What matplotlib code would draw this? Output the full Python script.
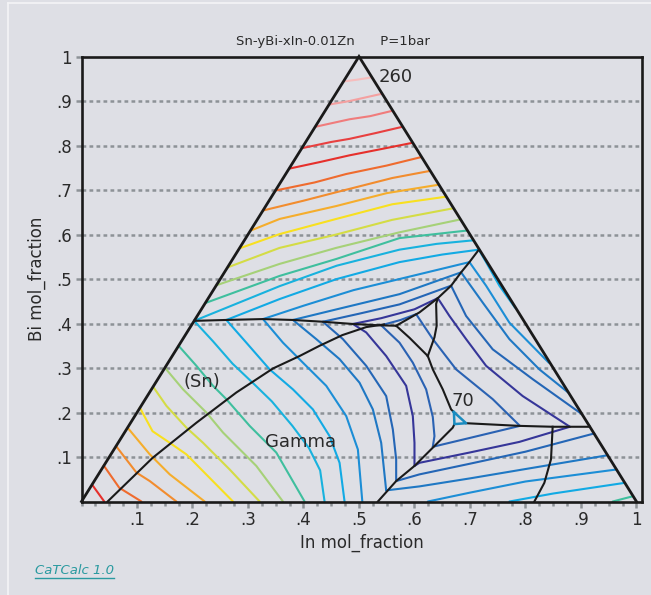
import matplotlib
matplotlib.use('Agg')
import matplotlib.pyplot as plt
from matplotlib.lines import Line2D

# ---------------- data (x = In + Bi/2, y = Bi) ----------------
# isotherm colours (deg C)
temp_colors = {
    260: '#f6bdbd', 250: '#f4a0a0', 240: '#f07c7c', 230: '#e84040',
    220: '#e6302c', 210: '#ef6b2e', 200: '#f28c2e', 190: '#f5ad2c',
    180: '#f8e020', 170: '#d4dc45', 160: '#a6d178', 150: '#3fbf9e',
    140: '#18b2de', 130: '#12aae4', 120: '#1c8ed6', 110: '#1f78c4',
    100: '#2466b6', 90: '#363699', 80: '#2a62b3', 70: '#1a8cc0',
}

# (Bi) primary field: isotherms
bi_field = [
    (260, [(0.472, 0.944), (0.497, 0.948), (0.522, 0.953)]),
    (250, [(0.446, 0.892), (0.483, 0.900), (0.540, 0.916)]),
    (240, [(0.421, 0.842), (0.483, 0.859), (0.520, 0.866), (0.560, 0.878)]),
    (230, [(0.397, 0.794), (0.450, 0.808), (0.483, 0.815), (0.530, 0.828), (0.578, 0.842)]),
    (220, [(0.374, 0.748), (0.430, 0.763), (0.483, 0.778), (0.540, 0.792), (0.596, 0.806)]),
    (210, [(0.350, 0.699), (0.420, 0.717), (0.477, 0.736), (0.550, 0.755), (0.612, 0.774)]),
    (200, [(0.327, 0.654), (0.400, 0.676), (0.459, 0.695), (0.560, 0.727), (0.628, 0.743)]),
    (190, [(0.305, 0.609), (0.357, 0.635), (0.459, 0.664), (0.550, 0.693), (0.644, 0.712)]),
    (180, [(0.285, 0.569), (0.357, 0.601), (0.459, 0.635), (0.560, 0.668), (0.657, 0.685)]),
    (170, [(0.263, 0.526), (0.357, 0.570), (0.459, 0.600), (0.560, 0.633), (0.670, 0.659)]),
    (160, [(0.243, 0.486), (0.357, 0.534), (0.459, 0.570), (0.573, 0.605), (0.683, 0.634)]),
    (150, [(0.223, 0.446), (0.357, 0.507), (0.459, 0.545), (0.573, 0.592), (0.695, 0.609)]),
    (140, [(0.203, 0.406), (0.357, 0.484), (0.460, 0.530), (0.573, 0.566), (0.640, 0.579), (0.706, 0.587)]),
    (130, [(0.261, 0.408), (0.357, 0.455), (0.460, 0.500), (0.573, 0.538), (0.650, 0.555), (0.716, 0.566)]),
    (120, [(0.327, 0.410), (0.400, 0.440), (0.490, 0.475), (0.573, 0.500), (0.699, 0.538)]),
    (110, [(0.381, 0.408), (0.470, 0.435), (0.573, 0.466), (0.684, 0.515)]),
    (100, [(0.435, 0.404), (0.500, 0.422), (0.573, 0.443), (0.666, 0.485)]),
    (90,  [(0.489, 0.399), (0.540, 0.412), (0.600, 0.432), (0.642, 0.457)]),
    (80,  [(0.540, 0.396), (0.575, 0.408), (0.603, 0.421)]),
]

# (Sn) and Gamma fields: isotherms (cross the (Sn)/Gamma valley)
sn_gamma_field = [
    (220, [(0.019, 0.038), (0.041, 0.0)]),
    (210, [(0.040, 0.081), (0.068, 0.031), (0.108, 0.0)]),
    (200, [(0.062, 0.125), (0.099, 0.065), (0.123, 0.046), (0.171, 0.0)]),
    (190, [(0.083, 0.166), (0.123, 0.106), (0.159, 0.061), (0.222, 0.0)]),
    (180, [(0.105, 0.211), (0.128, 0.158), (0.159, 0.132), (0.189, 0.106), (0.273, 0.0)]),
    (170, [(0.129, 0.258), (0.153, 0.215), (0.189, 0.166), (0.219, 0.132), (0.267, 0.072), (0.321, 0.0)]),
    (160, [(0.150, 0.301), (0.183, 0.252), (0.225, 0.200), (0.255, 0.155), (0.315, 0.080), (0.363, 0.0)]),
    (150, [(0.175, 0.350), (0.207, 0.305), (0.237, 0.260), (0.261, 0.230), (0.303, 0.170), (0.351, 0.110), (0.402, 0.0)]),
    (140, [(0.203, 0.406), (0.237, 0.360), (0.272, 0.310), (0.310, 0.265), (0.343, 0.225), (0.380, 0.170), (0.410, 0.120), (0.430, 0.070), (0.438, 0.0)]),
    (130, [(0.261, 0.408), (0.297, 0.357), (0.339, 0.297), (0.381, 0.252), (0.417, 0.207), (0.447, 0.147), (0.465, 0.087), (0.474, 0.0)]),
    (120, [(0.327, 0.410), (0.363, 0.357), (0.399, 0.312), (0.441, 0.260), (0.477, 0.192), (0.498, 0.117), (0.506, 0.0)]),
    (110, [(0.381, 0.408), (0.423, 0.365), (0.465, 0.320), (0.501, 0.267), (0.525, 0.207), (0.540, 0.132), (0.549, 0.025)]),
    (100, [(0.435, 0.404), (0.471, 0.365), (0.513, 0.305), (0.549, 0.237), (0.561, 0.162), (0.567, 0.095), (0.567, 0.046)]),
    (90,  [(0.489, 0.399), (0.513, 0.380), (0.549, 0.327), (0.585, 0.260), (0.597, 0.192), (0.600, 0.132), (0.600, 0.080)]),
    (80,  [(0.540, 0.396), (0.573, 0.357), (0.597, 0.312), (0.621, 0.252), (0.633, 0.190), (0.636, 0.147), (0.633, 0.123)]),
]

# In-Bi compound fields (right, above the In-rich fields)
inbi_field = [
    (130, [(0.716, 0.566), (0.729, 0.538), (0.753, 0.485), (0.781, 0.436)]),
    (120, [(0.699, 0.538), (0.729, 0.485), (0.771, 0.402), (0.842, 0.312)]),
    (110, [(0.684, 0.515), (0.723, 0.447), (0.771, 0.365), (0.825, 0.297), (0.877, 0.245)]),
    (100, [(0.666, 0.485), (0.693, 0.417), (0.741, 0.342), (0.813, 0.275), (0.902, 0.196)]),
    (90,  [(0.642, 0.457), (0.663, 0.417), (0.693, 0.365), (0.729, 0.305), (0.795, 0.237), (0.880, 0.168)]),
    (80,  [(0.603, 0.421), (0.633, 0.365), (0.675, 0.297), (0.741, 0.230), (0.790, 0.170)]),
]

# In-rich fields (lower right)
in_field = [
    (90,  [(0.880, 0.168), (0.789, 0.134), (0.699, 0.110), (0.609, 0.087), (0.600, 0.080)]),
    (80,  [(0.633, 0.123), (0.700, 0.143), (0.790, 0.170)]),
    (100, [(0.567, 0.046), (0.609, 0.061), (0.700, 0.085), (0.800, 0.112), (0.924, 0.153)]),
    (110, [(0.549, 0.025), (0.609, 0.034), (0.700, 0.052), (0.800, 0.073), (0.948, 0.104)]),
    (120, [(0.624, 0.0), (0.700, 0.020), (0.800, 0.045), (0.964, 0.072)]),
    (130, [(0.771, 0.0), (0.850, 0.018), (0.979, 0.042)]),
    (150, [(0.957, 0.0), (0.994, 0.012)]),
]

# phase boundaries (univariant valleys)
boundaries = [
    [(0.203, 0.406), (0.260, 0.408), (0.327, 0.410), (0.381, 0.408), (0.435, 0.404), (0.489, 0.399), (0.537, 0.396), (0.567, 0.395)],
    [(0.047, 0.0), (0.128, 0.098), (0.207, 0.177), (0.279, 0.245), (0.345, 0.299), (0.393, 0.327), (0.429, 0.350), (0.470, 0.374), (0.513, 0.392), (0.545, 0.398)],
    [(0.567, 0.395), (0.609, 0.425), (0.642, 0.457), (0.666, 0.485), (0.684, 0.515), (0.699, 0.538), (0.716, 0.566)],
    [(0.642, 0.457), (0.639, 0.444), (0.640, 0.395), (0.636, 0.369), (0.624, 0.327)],
    [(0.567, 0.395), (0.591, 0.368), (0.624, 0.327)],
    [(0.624, 0.327), (0.633, 0.297), (0.651, 0.252), (0.666, 0.207), (0.671, 0.201)],
    [(0.672, 0.174), (0.669, 0.166), (0.633, 0.121), (0.600, 0.080), (0.567, 0.046), (0.534, 0.0)],
    [(0.693, 0.176), (0.789, 0.170), (0.849, 0.168), (0.916, 0.168)],
    [(0.849, 0.168), (0.846, 0.095), (0.834, 0.042), (0.816, 0.0)],
]

# 70 deg C minimum (small closed isotherm)
min70 = [(0.671, 0.201), (0.672, 0.174), (0.693, 0.176)]

labels = [('260', 0.567, 0.954), ('70', 0.688, 0.226), ('(Sn)', 0.217, 0.268), ('Gamma', 0.394, 0.134)]
ytick_vals = [0.1, 0.2, 0.3, 0.4, 0.5, 0.6, 0.7, 0.8, 0.9, 1.0]
ytick_labels = ['.1', '.2', '.3', '.4', '.5', '.6', '.7', '.8', '.9', '1']
xtick_vals = [0.1, 0.2, 0.3, 0.4, 0.5, 0.6, 0.7, 0.8, 0.9, 1.0]
xtick_labels = ['.1', '.2', '.3', '.4', '.5', '.6', '.7', '.8', '.9', '1']

# ---------------- figure ----------------
BG = '#dedfe5'
plt.rcParams['font.family'] = ['DejaVu Sans']
fig = plt.figure(figsize=(6.51, 5.95), dpi=100, facecolor=BG)
ax = fig.add_axes([0.1252, 0.1571, 0.9862 - 0.1252, 0.905 - 0.1571])
ax.set_facecolor(BG)
ax.set_xlim(0, 1.01)
ax.set_ylim(0, 1)

grid_c = '#8d9297'
for yv in ytick_vals[:-1]:
    ax.axhline(yv, color=grid_c, lw=1.8, linestyle=(0, (1.5, 1.3)), zorder=1)

def draw(segs, lw=1.5):
    for t, pts in segs:
        xs = [p[0] for p in pts]
        ys = [p[1] for p in pts]
        ax.plot(xs, ys, color=temp_colors[t], lw=lw, solid_capstyle='round',
                solid_joinstyle='round', zorder=3)

draw(bi_field)
draw(sn_gamma_field)
draw(inbi_field)
draw(in_field)

for pts in boundaries:
    ax.plot([p[0] for p in pts], [p[1] for p in pts], color='#1a1a1a', lw=1.5,
            solid_joinstyle='round', zorder=4)

tri = min70 + [min70[0]]
ax.plot([p[0] for p in tri], [p[1] for p in tri], color=temp_colors[70], lw=1.8, zorder=5)

# triangle frame
ax.plot([0, 0.5, 1.0], [0, 1, 0], color='#1a1a1a', lw=2.0, zorder=6, clip_on=False,
        solid_joinstyle='miter')

for txt, xv, yv in labels:
    ax.text(xv, yv, txt, fontsize=13, color='#2a2a2a', ha='center', va='center', zorder=7)

for s in ax.spines.values():
    s.set_color('#1a1a1a')
    s.set_linewidth(1.9)
    s.set_zorder(6)

ax.set_yticks(ytick_vals)
ax.set_yticklabels(ytick_labels, fontsize=12, color='#2a2a2a')
ax.set_xticks(xtick_vals)
ax.set_xticklabels(xtick_labels, fontsize=12, color='#2a2a2a')
ax.set_xticks([i * 0.025 for i in range(41)], minor=True)
ax.tick_params(axis='both', which='major', direction='out', color=grid_c, width=1.8, length=4, pad=3)
ax.tick_params(axis='x', which='minor', direction='out', color=grid_c, width=1.8, length=3)
ax.tick_params(axis='y', which='minor', left=False)

ax.set_xlabel('In mol_fraction', fontsize=12, color='#2a2a2a', labelpad=3)
ax.set_ylabel('Bi mol_fraction', fontsize=12, color='#2a2a2a', labelpad=7)

fig.text(333 / 651, 1 - 42 / 595, 'Sn-yBi-xIn-0.01Zn      P=1bar', fontsize=9.5,
         ha='center', va='center', color='#2a2a2a')
fig.text(35 / 651, 1 - 570 / 595, 'CaTCalc 1.0', fontsize=9.5, color='#2a9aa0',
         ha='left', va='center', style='italic')
fig.add_artist(Line2D([35 / 651, 114 / 651], [1 - 578 / 595, 1 - 578 / 595],
                      color='#2a9aa0', lw=1.0, transform=fig.transFigure))
# window frame edge
fig.add_artist(Line2D([8 / 651, 8 / 651], [0, 1 - 3 / 595], color='#f4f4f6', lw=1.2,
                      transform=fig.transFigure))
fig.add_artist(Line2D([8 / 651, 1], [1 - 3 / 595, 1 - 3 / 595], color='#f4f4f6', lw=1.2,
                      transform=fig.transFigure))

fig.savefig('out.png', dpi=100, facecolor=BG)
